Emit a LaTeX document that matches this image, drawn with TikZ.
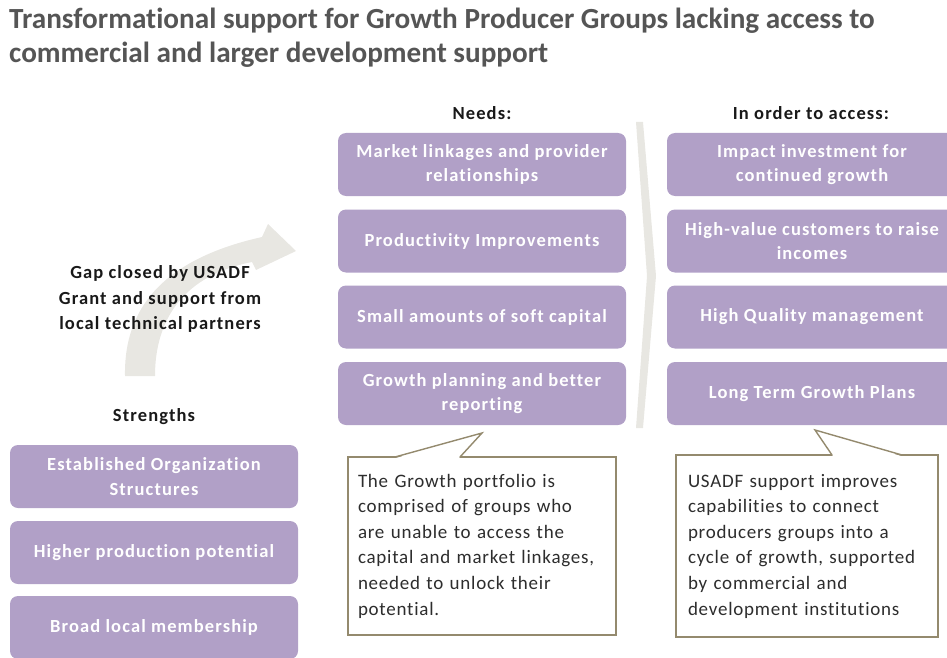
\documentclass[tikz,border=0pt]{standalone}
\usepackage{fontspec}
\usetikzlibrary{calc}
\setmainfont{Carlito}[Ligatures=CommonOff]
\newfontfamily\spacedfont{Carlito}[LetterSpace=6, Ligatures=CommonOff]
\newfontfamily\bodyfont{Carlito}[LetterSpace=4, Ligatures=CommonOff]
\definecolor{boxpurple}{RGB}{177,160,199}
\definecolor{titlegray}{RGB}{85,85,85}
\definecolor{calloutline}{RGB}{148,138,110}
\definecolor{arrowgray}{RGB}{232,231,226}
\definecolor{labeltext}{RGB}{25,25,25}
\definecolor{bodytext}{RGB}{45,45,45}
\begin{document}
\begin{tikzpicture}[x=1pt,y=-1pt,
  pbox/.style={fill=boxpurple, rounded corners=8pt, text=white, align=center,
    font=\spacedfont\bfseries\fontsize{18.5}{24.5}\selectfont, inner sep=0pt,
    minimum width=288pt, minimum height=63pt},
  rbox/.style={pbox, minimum width=290pt},
  hdr/.style={text=labeltext, font=\spacedfont\bfseries\fontsize{18.5}{25.5}\selectfont, inner sep=0pt},
  callout/.style={draw=calloutline, line width=1.4pt, fill=white, align=left,
    text=bodytext, font=\bodyfont\fontsize{19}{25.6}\selectfont, inner xsep=10pt, inner ysep=0pt},
  ptr/.style={draw=calloutline, line width=1.4pt, line join=miter},
  ttl/.style={anchor=base west, inner sep=0pt, text=titlegray, font=\bfseries\fontsize{29.2}{34}\selectfont}
]
\useasboundingbox (0,0) rectangle (947,658);
\clip (0,0) rectangle (947,658);

% title
\node[ttl] (t1) at (9,29) {Transformational support for Growth Producer Groups lacking access to};
\node[ttl] (t2) at (9,63) {commercial and larger development support};

% curved arrow
\fill[arrowgray] (125,376) .. controls (124,320) and (150,262) .. (262,237)
  -- (268,224) -- (296,251) -- (256,270) -- (252,262)
  .. controls (185,275) and (155,318) .. (155,376) -- cycle;

% chevron
\fill[arrowgray] (636,122) -- (643,122) -- (656,276) -- (643,428) -- (636,428) -- (647,276) -- cycle;

% headers
\node[hdr] (hneeds) at (482,113) {Needs:};
\node[hdr] (haccess) at (811,113) {In order to access:};
\node[hdr] (hstr) at (154,417) {Strengths};
\node[hdr, align=center] (gap) at (160,299)
  {Gap closed by USADF\\Grant and support from\\local technical partners};

% needs boxes
\node[pbox] (n1) at (482,164.5) {Market linkages and provider\\relationships};
\node[pbox] (n2) at (482,241) {Productivity Improvements};
\node[pbox] (n3) at (482,317) {Small amounts of soft capital};
\node[pbox] (n4) at (482,393.5) {Growth planning and better\\reporting};

% access boxes
\node[rbox] (a1) at (812,164.5) {Impact investment for\\continued growth};
\node[rbox] (a2) at (812,241) {High-value customers to raise\\incomes};
\node[rbox] (a3) at (812,317) {High Quality management};
\node[rbox] (a4) at (812,393.5) {Long Term Growth Plans};

% strengths boxes
\node[pbox] (s1) at (154,476.5) {Established Organization\\Structures};
\node[pbox] (s2) at (154,552.5) {Higher production potential};
\node[pbox] (s3) at (154,627.5) {Broad local membership};

% callouts
\node[callout, minimum width=268pt, minimum height=178pt, text width=248pt] (c1) at (482,546)
  {The Growth portfolio is\\comprised of groups who\\are unable to access the\\capital and market linkages,\\needed to unlock their\\potential.};
\coordinate (c1a) at (395,457);
\coordinate (c1tip) at (482,433);
\coordinate (c1b) at (460,457);
\fill[white] ($(c1a)+(1,1)$) -- (c1tip) -- ($(c1b)+(-1,1)$) -- cycle;
\draw[ptr] (c1a) -- (c1tip) -- (c1b);

\node[callout, minimum width=262pt, minimum height=182pt, text width=238pt, inner xsep=12pt] (c2) at (807,546)
  {USADF support improves\\capabilities to connect\\producers groups into a\\cycle of growth, supported\\by commercial and\\development institutions};
\coordinate (c2a) at (832,455);
\coordinate (c2tip) at (815,430);
\coordinate (c2b) at (902,455);
\fill[white] ($(c2a)+(1,1)$) -- (c2tip) -- ($(c2b)+(-1,1)$) -- cycle;
\draw[ptr] (c2a) -- (c2tip) -- (c2b);
\end{tikzpicture}
\end{document}
